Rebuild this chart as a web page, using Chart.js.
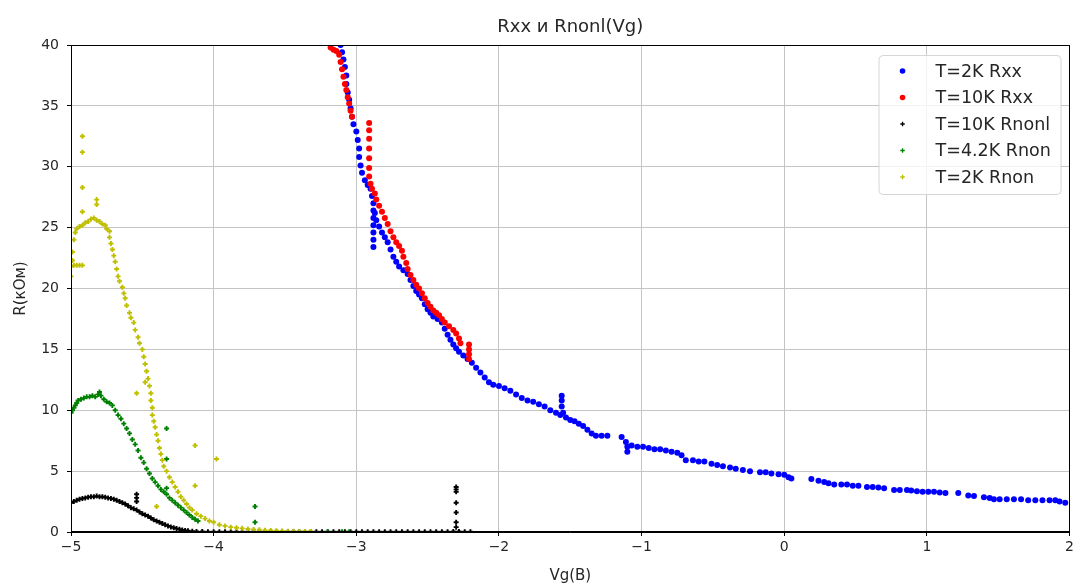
<!DOCTYPE html>
<html>
<head>
<meta charset="utf-8">
<script src="https://cdn.jsdelivr.net/npm/chart.js@4/dist/chart.umd.min.js"></script>
<style>
    body { margin: 0; background: #fff; }
    #wrap { width: 1077px; height: 586px; }
</style>
</head>
<body>
<div id="wrap"><canvas id="chart"></canvas></div>
<script>
// Данные: Vg (В) и R (кОм)
const seriesLabels = ['T=2K Rxx', 'T=10K Rxx', 'T=10K Rnonl', 'T=4.2K Rnon', 'T=2K Rnon'];
const xTicks = [-5, -4, -3, -2, -1, 0, 1, 2];
const yTicks = [0, 5, 10, 15, 20, 25, 30, 35, 40];

// T=2K Rxx
const rxx2kVg = [-3.11,-3.10,-3.09,-3.08,-3.07,-3.07,-3.06,-3.05,-3.04,-3.03,-3.02,-3.00,-2.99,-2.98,-2.98,-2.97,-2.96,-2.94,-2.92,-2.90,
    -2.89,-2.88,-2.88,-2.88,-2.88,-2.88,-2.88,-2.88,-2.87,-2.86,-2.84,-2.82,-2.80,-2.78,-2.76,-2.74,-2.72,-2.70,-2.67,-2.64,
    -2.62,-2.60,-2.58,-2.56,-2.54,-2.52,-2.50,-2.48,-2.46,-2.43,-2.40,-2.38,-2.36,-2.34,-2.32,-2.30,-2.28,-2.25,-2.22,-2.19,
    -2.16,-2.13,-2.10,-2.07,-2.04,-2.00,-1.96,-1.92,-1.88,-1.84,-1.80,-1.76,-1.72,-1.68,-1.64,-1.60,-1.57,-1.56,-1.56,-1.56,
    -1.55,-1.53,-1.50,-1.47,-1.44,-1.41,-1.38,-1.35,-1.32,-1.28,-1.24,-1.14,-1.11,-1.10,-1.10,-1.07,-1.03,-0.99,-0.95,-0.91,
    -0.87,-0.83,-0.79,-0.75,-0.72,-0.69,-0.64,-0.60,-0.56,-0.51,-0.47,-0.43,-0.38,-0.34,-0.29,-0.24,-0.17,-0.13,-0.09,-0.04,
    0.00,0.03,0.05,0.19,0.24,0.28,0.31,0.35,0.40,0.44,0.48,0.52,0.58,0.62,0.66,0.70,0.77,0.81,0.86,0.89,
    0.93,0.97,1.01,1.05,1.09,1.13,1.22,1.29,1.33,1.40,1.44,1.47,1.51,1.56,1.61,1.66,1.71,1.76,1.81,1.86,
    1.90,1.93,1.97];
const rxx2kR = [40.0,39.4,38.8,38.2,37.5,36.8,36.1,35.5,34.8,34.1,33.5,32.9,32.2,31.5,30.8,30.1,29.5,28.9,28.5,28.2,
    27.6,27.0,26.4,25.8,25.2,24.6,24.0,23.4,26.2,25.6,25.1,24.6,24.2,23.8,23.2,22.6,22.2,21.8,21.5,21.2,
    20.7,20.2,19.8,19.5,19.2,18.7,18.3,18.0,17.7,17.5,17.2,16.7,16.2,15.8,15.4,15.1,14.8,14.5,14.2,13.9,
    13.5,13.1,12.7,12.3,12.1,12.0,11.8,11.6,11.3,11.0,10.8,10.7,10.5,10.3,10.0,9.8,9.6,11.2,10.8,10.3,
    9.8,9.4,9.2,9.1,8.9,8.7,8.4,8.1,7.9,7.9,7.9,7.8,7.4,6.6,7.0,7.1,7.0,7.0,6.9,6.8,
    6.8,6.7,6.6,6.5,6.3,5.9,5.9,5.8,5.8,5.6,5.5,5.4,5.3,5.2,5.1,5.0,4.9,4.9,4.8,4.75,
    4.7,4.5,4.4,4.35,4.2,4.1,4.0,3.9,3.9,3.9,3.8,3.8,3.7,3.7,3.65,3.6,3.45,3.45,3.45,3.4,
    3.35,3.3,3.3,3.3,3.25,3.2,3.2,3.0,2.95,2.85,2.8,2.7,2.7,2.7,2.7,2.7,2.6,2.6,2.6,2.6,
    2.6,2.5,2.4];

// T=10K Rxx
const rxx10kVg = [-3.18,-3.16,-3.14,-3.12,-3.11,-3.10,-3.09,-3.08,-3.07,-3.06,-3.05,-3.04,-3.03,-2.91,-2.91,-2.91,-2.91,-2.91,-2.91,-2.91,
    -2.90,-2.89,-2.87,-2.86,-2.84,-2.82,-2.80,-2.78,-2.76,-2.74,-2.72,-2.70,-2.68,-2.67,-2.65,-2.64,-2.62,-2.60,-2.58,-2.56,
    -2.54,-2.52,-2.50,-2.48,-2.46,-2.44,-2.42,-2.40,-2.38,-2.35,-2.32,-2.30,-2.28,-2.27,-2.21,-2.21,-2.21,-2.21];
const rxx10kR = [39.8,39.6,39.5,39.2,38.6,38.0,37.4,36.8,36.3,35.7,35.2,34.6,34.1,33.6,33.0,32.3,31.5,30.7,29.9,29.2,
    28.6,28.2,27.8,27.3,26.8,26.3,25.8,25.3,24.7,24.2,23.8,23.5,23.1,22.6,22.1,21.6,21.1,20.7,20.3,20.0,
    19.6,19.2,18.8,18.5,18.2,18.0,17.8,17.5,17.2,16.9,16.6,16.3,15.9,15.5,15.4,15.0,14.6,14.2];

// T=10K Rnonl
const rnl10kVg = [-5.00,-4.98,-4.96,-4.94,-4.92,-4.90,-4.88,-4.86,-4.84,-4.82,-4.80,-4.78,-4.76,-4.74,-4.72,-4.70,-4.68,-4.66,-4.64,-4.62,
    -4.60,-4.58,-4.56,-4.54,-4.54,-4.54,-4.54,-4.52,-4.50,-4.48,-4.46,-4.44,-4.42,-4.40,-4.38,-4.36,-4.34,-4.32,-4.30,-4.28,
    -4.26,-4.24,-4.22,-4.20,-4.18,-4.15,-4.12,-4.08,-4.04,-4.00,-3.96,-3.92,-3.88,-3.84,-3.80,-3.76,-3.72,-3.68,-3.64,-3.60,
    -3.56,-3.52,-3.48,-3.44,-3.40,-3.36,-3.32,-3.28,-3.24,-3.20,-3.16,-3.12,-3.08,-3.04,-3.00,-2.96,-2.92,-2.88,-2.84,-2.80,
    -2.76,-2.72,-2.68,-2.64,-2.60,-2.56,-2.52,-2.48,-2.44,-2.40,-2.36,-2.32,-2.30,-2.30,-2.30,-2.30,-2.30,-2.30,-2.30,-2.28,
    -2.24,-2.20];
const rnl10kR = [2.4,2.5,2.6,2.7,2.75,2.8,2.85,2.9,2.9,2.95,2.9,2.9,2.85,2.8,2.75,2.7,2.6,2.5,2.4,2.3,
    2.15,2.0,1.9,1.8,3.1,2.8,2.5,1.65,1.5,1.4,1.3,1.15,1.0,0.9,0.8,0.7,0.6,0.5,0.42,0.35,
    0.28,0.22,0.17,0.13,0.1,0.07,0.05,0.04,0.03,0.02,0.02,0.02,0.02,0.02,0.02,0.02,0.02,0.02,0.02,0.02,
    0.02,0.02,0.02,0.02,0.02,0.02,0.02,0.02,0.02,0.02,0.02,0.02,0.02,0.02,0.03,0.03,0.03,0.03,0.03,0.03,
    0.03,0.03,0.03,0.03,0.03,0.03,0.03,0.03,0.03,0.03,0.03,0.05,3.7,3.5,3.3,2.4,1.6,0.8,0.4,0.05,
    0.03,0.03];

// T=4.2K Rnon
const rn42kVg = [-5.00,-4.99,-4.98,-4.97,-4.96,-4.95,-4.93,-4.91,-4.89,-4.87,-4.85,-4.83,-4.81,-4.80,-4.79,-4.77,-4.75,-4.73,-4.71,-4.69,
    -4.67,-4.65,-4.63,-4.61,-4.59,-4.57,-4.55,-4.53,-4.51,-4.49,-4.47,-4.45,-4.43,-4.41,-4.39,-4.37,-4.35,-4.33,-4.31,-4.29,
    -4.27,-4.25,-4.23,-4.21,-4.19,-4.17,-4.15,-4.13,-4.11,-4.33,-4.33,-4.33,-3.71,-3.71,-3.60,-3.40,-3.20,-3.10,-3.05];
const rn42kR = [9.8,10.0,10.2,10.4,10.6,10.8,10.9,11.0,11.1,11.1,11.2,11.1,11.3,11.5,11.2,10.9,10.7,10.6,10.4,10.0,
    9.6,9.3,8.9,8.5,8.1,7.6,7.2,6.7,6.1,5.7,5.2,4.8,4.4,4.1,3.8,3.5,3.3,3.1,2.8,2.6,
    2.4,2.2,2.0,1.8,1.6,1.4,1.2,1.05,0.9,8.5,6.0,3.6,2.1,0.8,0.05,0.03,0.02,0.02,0.02];

// T=2K Rnon
const rn2kVg = [-5.00,-5.00,-4.99,-4.98,-4.96,-4.94,-4.92,-4.99,-4.98,-4.97,-4.96,-4.94,-4.92,-4.90,-4.88,-4.86,-4.84,-4.82,-4.80,-4.78,
    -4.76,-4.75,-4.73,-4.73,-4.72,-4.71,-4.70,-4.69,-4.68,-4.67,-4.66,-4.64,-4.63,-4.62,-4.61,-4.59,-4.58,-4.56,-4.55,-4.53,
    -4.52,-4.50,-4.49,-4.48,-4.47,-4.46,-4.45,-4.44,-4.44,-4.43,-4.43,-4.42,-4.41,-4.40,-4.39,-4.38,-4.37,-4.36,-4.35,-4.33,
    -4.31,-4.29,-4.27,-4.25,-4.23,-4.21,-4.19,-4.17,-4.15,-4.12,-4.09,-4.06,-4.03,-4.00,-3.96,-3.92,-3.88,-3.84,-3.80,-3.76,
    -3.72,-3.68,-3.64,-3.60,-3.56,-3.52,-3.48,-3.44,-3.40,-3.36,-3.32,
    -4.92,-4.92,-4.92,-4.92,-4.82,-4.82,-4.54,-4.48,-4.13,-3.98,-4.40,-4.13];
const rn2kR = [21.0,21.8,22.3,21.9,21.9,21.9,21.9,23.0,24.0,24.6,24.9,25.1,25.2,25.4,25.5,25.7,25.8,25.6,25.5,25.3,
    25.2,24.9,24.7,24.2,23.7,23.2,22.7,22.2,21.6,21.0,20.6,20.1,19.6,19.2,18.6,18.0,17.6,17.2,16.6,16.0,
    15.5,15.0,14.4,13.8,13.2,12.6,12.0,11.4,10.8,10.2,9.6,9.1,8.6,8.0,7.5,6.9,6.4,5.9,5.4,5.0,
    4.5,4.1,3.7,3.3,2.9,2.6,2.3,2.0,1.8,1.5,1.3,1.1,0.9,0.8,0.6,0.5,0.4,0.35,0.3,0.25,
    0.2,0.18,0.15,0.12,0.1,0.08,0.07,0.06,0.05,0.05,0.04,
    32.5,31.2,28.3,26.3,27.3,26.9,11.4,12.3,7.1,6.0,2.1,3.8];

const textColor = '#262626';
const fontFamily = "'DejaVu Sans', sans-serif";

function toPoints(xs, ys) {
    return xs.map((x, i) => ({ x: x, y: ys[i] }));
}

function minusSign(value) {
    return String(value).replace('-', '\u2212');
}

// Рамка вокруг области графика и легенда внутри неё (как в matplotlib)
const frameAndLegend = {
    id: 'frameAndLegend',
    afterDraw(chart) {
        const ctx = chart.ctx;
        const a = chart.chartArea;
        ctx.save();
        ctx.strokeStyle = '#000';
        ctx.lineWidth = 1;
        ctx.strokeRect(Math.round(a.left) + 0.5, Math.round(a.top) + 0.5,
            Math.round(a.right - a.left) - 1, Math.round(a.bottom - a.top) - 1);

        const boxW = 182, boxH = 139;
        const bx = a.right - 9 - boxW, by = a.top + 10;
        ctx.fillStyle = 'rgba(255,255,255,0.8)';
        ctx.strokeStyle = '#d6d6d6';
        ctx.beginPath();
        ctx.roundRect(bx + 0.5, by + 0.5, boxW, boxH, 4);
        ctx.fill();
        ctx.stroke();

        ctx.font = '17.5px ' + fontFamily;
        ctx.textBaseline = 'middle';
        chart.data.datasets.forEach((ds, i) => {
            const cy = by + 16 + i * 26.5;
            const mx = bx + 24;
            ctx.fillStyle = ds.backgroundColor;
            ctx.strokeStyle = ds.borderColor;
            if (ds.pointStyle === 'circle') {
                ctx.beginPath();
                ctx.arc(mx, cy, 2.8, 0, Math.PI * 2);
                ctx.fill();
            } else {
                ctx.lineWidth = 1.3;
                ctx.beginPath();
                ctx.moveTo(mx - 2.2, cy); ctx.lineTo(mx + 2.2, cy);
                ctx.moveTo(mx, cy - 2.2); ctx.lineTo(mx, cy + 2.2);
                ctx.stroke();
            }
            ctx.fillStyle = textColor;
            ctx.fillText(ds.label, bx + 57, cy + 1);
        });
        ctx.restore();
    }
};

const seriesStyles = [
    { color: '#0000ff', style: 'circle', radius: 3, order: 5 },
    { color: '#ff0000', style: 'circle', radius: 3, order: 4 },
    { color: '#000000', style: 'cross', radius: 2.5, order: 3 },
    { color: '#008000', style: 'cross', radius: 2.5, order: 2 },
    { color: '#bfbf00', style: 'cross', radius: 2.5, order: 1 }
];

const seriesData = [
    toPoints(rxx2kVg, rxx2kR),
    toPoints(rxx10kVg, rxx10kR),
    toPoints(rnl10kVg, rnl10kR),
    toPoints(rn42kVg, rn42kR),
    toPoints(rn2kVg, rn2kR)
];

const datasets = seriesLabels.map((label, i) => ({
    label: label,
    data: seriesData[i],
    backgroundColor: seriesStyles[i].color,
    borderColor: seriesStyles[i].color,
    pointStyle: seriesStyles[i].style,
    pointRadius: seriesStyles[i].radius,
    pointBorderWidth: seriesStyles[i].style === 'circle' ? 0 : 1.9,
    order: seriesStyles[i].order
}));

new Chart(document.getElementById('chart'), {
    type: 'scatter',
    data: { datasets: datasets },
    options: {
        responsive: true,
        maintainAspectRatio: false,
        animation: false,
        layout: { padding: { left: 0, right: 6, top: 0, bottom: 0 } },
        plugins: {
            legend: { display: false },
            tooltip: { enabled: false },
            title: {
                display: true,
                fullSize: false,
                text: 'Rxx и Rnonl(Vg)',
                color: textColor,
                font: { family: fontFamily, size: 18, weight: 'normal', lineHeight: 1.2 },
                padding: { top: 17, bottom: 6.4 }
            }
        },
        scales: {
            x: {
                type: 'linear',
                min: xTicks[0],
                max: xTicks[xTicks.length - 1],
                afterBuildTicks: (scale) => { scale.ticks = xTicks.map(v => ({ value: v })); },
                afterFit: (scale) => { scale.height = 54; },
                grid: { color: '#c4c4c4', tickColor: '#000', tickLength: 4, lineWidth: 1 },
                border: { color: '#000' },
                ticks: {
                    color: textColor,
                    padding: 3,
                    font: { family: fontFamily, size: 14 },
                    callback: (v) => minusSign(v)
                },
                title: {
                    display: true,
                    text: 'Vg(B)',
                    color: textColor,
                    font: { family: fontFamily, size: 15 },
                    padding: { top: 0, bottom: 1 }
                }
            },
            y: {
                type: 'linear',
                min: yTicks[0],
                max: yTicks[yTicks.length - 1],
                afterBuildTicks: (scale) => { scale.ticks = yTicks.map(v => ({ value: v })); },
                afterFit: (scale) => { scale.width = 71; },
                grid: { color: '#c4c4c4', tickColor: '#000', tickLength: 4, lineWidth: 1 },
                border: { color: '#000' },
                ticks: {
                    color: textColor,
                    padding: 8,
                    font: { family: fontFamily, size: 14 },
                    callback: (v) => minusSign(v)
                },
                title: {
                    display: true,
                    text: 'R(кОм)',
                    color: textColor,
                    font: { family: fontFamily, size: 15 },
                    padding: { top: 12, bottom: 0 }
                }
            }
        }
    },
    plugins: [frameAndLegend]
});
</script>
</body>
</html>
